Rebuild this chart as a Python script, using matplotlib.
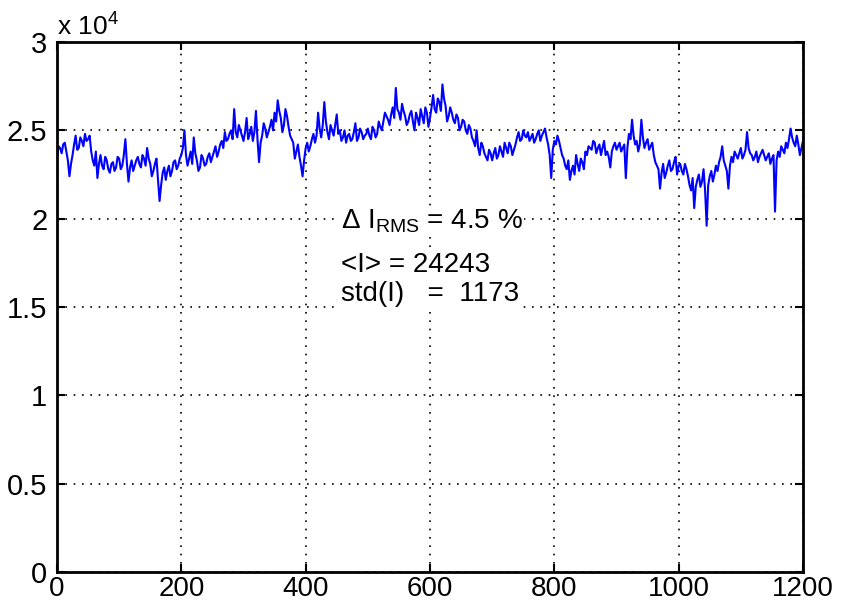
import numpy as np
import matplotlib
matplotlib.use("Agg")
import matplotlib.pyplot as plt

plt.rcParams['font.family'] = ['Liberation Sans', 'DejaVu Sans']
plt.rcParams['mathtext.fontset'] = 'custom'
plt.rcParams['mathtext.rm'] = 'Liberation Sans'
plt.rcParams['mathtext.it'] = 'Liberation Sans'
plt.rcParams['mathtext.sf'] = 'Liberation Sans'

# intensity (units of 1e4) read at x = 0, 5, 10, ... 1200
intensity_main_e4 = [
    2.35, 2.40, 2.42, 2.38, 2.24, 2.36, 2.47, 2.40, 2.44, 2.48, 2.45, 2.38, 2.30, 2.23, 2.36, 2.28, 2.33, 2.26, 2.32, 2.29, 2.34,
    2.30, 2.45, 2.21, 2.33, 2.30, 2.35, 2.29, 2.34, 2.40, 2.31, 2.27, 2.34, 2.10, 2.26, 2.22, 2.30, 2.27, 2.33, 2.30, 2.36,
    2.50, 2.30, 2.38, 2.46, 2.33, 2.29, 2.34, 2.31, 2.37, 2.35, 2.41, 2.38, 2.44, 2.49, 2.45, 2.50, 2.62, 2.46, 2.50, 2.44,
    2.57, 2.48, 2.44, 2.61, 2.32, 2.47, 2.51, 2.49, 2.56, 2.60, 2.67, 2.57, 2.53, 2.58, 2.47, 2.43, 2.38, 2.35, 2.24, 2.40,
    2.38, 2.45, 2.43, 2.60, 2.46, 2.66, 2.49, 2.53, 2.47, 2.59, 2.50, 2.46, 2.43, 2.48, 2.45, 2.54, 2.46, 2.49, 2.47, 2.51,
    2.45, 2.50, 2.48, 2.52, 2.55, 2.58, 2.53, 2.63, 2.74, 2.60, 2.65, 2.58, 2.55, 2.61, 2.50, 2.57, 2.62, 2.54, 2.60, 2.57,
    2.70, 2.60, 2.66, 2.76, 2.64, 2.58, 2.60, 2.54, 2.57, 2.52, 2.55, 2.48, 2.51, 2.44, 2.50, 2.36, 2.41, 2.35, 2.39, 2.33,
    2.40, 2.36, 2.38, 2.43, 2.37, 2.41, 2.39, 2.46, 2.44, 2.50, 2.46, 2.44, 2.48, 2.45, 2.50, 2.47, 2.51, 2.42, 2.23, 2.44,
    2.47, 2.40, 2.34, 2.28, 2.22, 2.30, 2.36, 2.27, 2.32, 2.38, 2.41, 2.39, 2.43, 2.40, 2.36, 2.44, 2.38, 2.29, 2.41, 2.39,
    2.43, 2.40, 2.23, 2.48, 2.56, 2.42, 2.38, 2.56, 2.40, 2.45, 2.41, 2.36, 2.30, 2.17, 2.31, 2.26, 2.33, 2.28, 2.35, 2.30,
    2.27, 2.31, 2.24, 2.16, 2.06, 2.22, 2.18, 2.28, 1.96, 2.24, 2.21, 2.30, 2.32, 2.41, 2.30, 2.17, 2.35, 2.38, 2.34, 2.40,
    2.36, 2.49, 2.37, 2.33, 2.38, 2.35, 2.39, 2.33, 2.37, 2.34, 2.04, 2.38, 2.41, 2.37, 2.40, 2.51, 2.43, 2.47, 2.36, 2.44,
]
# intensity (units of 1e4) read at x = 2.5, 7.5, ... 1197.5
intensity_mid_e4 = [
    2.41, 2.37, 2.43, 2.33, 2.31, 2.42, 2.39, 2.46, 2.41, 2.44, 2.47, 2.33, 2.38, 2.31, 2.30, 2.35, 2.28, 2.31, 2.27, 2.35,
    2.28, 2.36, 2.31, 2.29, 2.27, 2.33, 2.31, 2.36, 2.30, 2.34, 2.24, 2.31, 2.22, 2.19, 2.29, 2.27, 2.24, 2.32, 2.28, 2.34,
    2.40, 2.36, 2.34, 2.31, 2.37, 2.27, 2.36, 2.30, 2.35, 2.32, 2.38, 2.35, 2.42, 2.40, 2.44, 2.48, 2.45, 2.49, 2.53, 2.47,
    2.49, 2.45, 2.52, 2.49, 2.45, 2.43, 2.54, 2.46, 2.52, 2.50, 2.55, 2.61, 2.49, 2.62, 2.52, 2.45, 2.34, 2.42, 2.30, 2.33,
    2.43, 2.41, 2.48, 2.47, 2.51, 2.53, 2.55, 2.45, 2.50, 2.53, 2.48, 2.44, 2.50, 2.47, 2.44, 2.49, 2.44, 2.51, 2.45, 2.48,
    2.47, 2.52, 2.46, 2.55, 2.50, 2.60, 2.56, 2.59, 2.57, 2.62, 2.56, 2.61, 2.53, 2.59, 2.55, 2.60, 2.53, 2.58, 2.63, 2.52,
    2.63, 2.62, 2.68, 2.61, 2.68, 2.55, 2.63, 2.56, 2.59, 2.50, 2.56, 2.50, 2.53, 2.46, 2.41, 2.40, 2.43, 2.37, 2.33, 2.37,
    2.37, 2.34, 2.41, 2.35, 2.40, 2.43, 2.36, 2.42, 2.49, 2.45, 2.47, 2.49, 2.46, 2.43, 2.48, 2.44, 2.49, 2.46, 2.36, 2.39,
    2.42, 2.44, 2.36, 2.30, 2.33, 2.27, 2.25, 2.31, 2.34, 2.28, 2.36, 2.40, 2.44, 2.37, 2.42, 2.40, 2.36, 2.35, 2.38, 2.43,
    2.41, 2.38, 2.42, 2.40, 2.45, 2.47, 2.44, 2.42, 2.46, 2.43, 2.39, 2.43, 2.32, 2.28, 2.26, 2.23, 2.30, 2.27, 2.32, 2.25,
    2.31, 2.25, 2.28, 2.19, 2.23, 2.18, 2.25, 2.21, 2.16, 2.19, 2.27, 2.25, 2.27, 2.35, 2.33, 2.27, 2.30, 2.32, 2.36, 2.37,
    2.34, 2.39, 2.40, 2.36, 2.35, 2.32, 2.37, 2.36, 2.35, 2.31, 2.36, 2.33, 2.35, 2.39, 2.43, 2.45, 2.46, 2.41, 2.42, 2.40,
]
step = 5.0

x_ticks = [0, 200, 400, 600, 800, 1000, 1200]
y_ticks = [0, 5000, 10000, 15000, 20000, 25000, 30000]
y_tick_labels = ['0', '0.5', '1', '1.5', '2', '2.5', '3']

x_values = []
intensity = []
for i, v in enumerate(intensity_main_e4):
    x_values.append(i * step)
    intensity.append(v * 1e4)
    if i < len(intensity_mid_e4):
        x_values.append(i * step + step / 2)
        intensity.append(intensity_mid_e4[i] * 1e4)

fig = plt.figure(figsize=(8.49, 6.07), dpi=100)
ax = fig.add_axes([57/849, 35/607, 746/849, 530/607])
ax.plot(x_values, intensity, color='#0000ff', linewidth=1.5)

ax.set_xlim(0, 1200)
ax.set_ylim(0, 30000)
ax.set_xticks(x_ticks)
ax.set_xticklabels([str(t) for t in x_ticks])
ax.set_yticks(y_ticks)
ax.set_yticklabels(y_tick_labels)
ax.tick_params(direction='in', length=6, width=1.5, top=True, right=True,
               labeltop=False, labelright=False, colors='black')
ax.tick_params(axis='y', labelsize=21, pad=7)
ax.tick_params(axis='x', labelsize=20, pad=3)
ax.grid(True, linestyle=(0, (1, 4)), color='black', linewidth=1.2)
for s in ax.spines.values():
    s.set_linewidth(2)
    s.set_color('black')

ax.text(0.0, 1.013, r'x 10$^{4}$', transform=ax.transAxes, fontsize=19,
        ha='left', va='baseline')

box = dict(facecolor='white', edgecolor='none', pad=1)
ax.text(457, 19450, r'$\Delta$ I$_{\mathrm{RMS}}$ = 4.5 %', fontsize=20, ha='left', va='baseline', bbox=box)
ax.text(457, 17000, '<I> = 24243', fontsize=20, ha='left', va='baseline', bbox=box)
ax.text(457, 15350, 'std(I)   =  1173', fontsize=20, ha='left', va='baseline', bbox=box)

fig.savefig('out.png', dpi=100)
